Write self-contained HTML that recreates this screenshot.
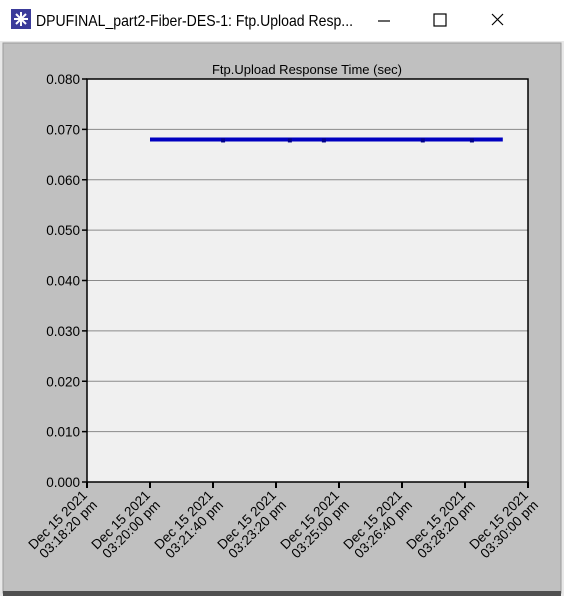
<!DOCTYPE html>
<html><head><meta charset="utf-8"><style>
body{margin:0;width:564px;height:596px;overflow:hidden;background:#fff;font-family:"Liberation Sans",sans-serif}
</style></head><body>
<svg width="564" height="596" xmlns="http://www.w3.org/2000/svg">
<rect x="0" y="0" width="564" height="42" fill="#ffffff"/>
<g>
<rect x="11" y="9" width="20" height="20" fill="#3b3b9a"/>
<path d="M21 12 L21 26 M14 19 L28 19 M16 14 L26 24 M26 14 L16 24" stroke="#fff" stroke-width="2"/>
</g>
<text x="36" y="26" font-size="16" textLength="317" lengthAdjust="spacingAndGlyphs" fill="#000">DPUFINAL_part2-Fiber-DES-1: Ftp.Upload Resp...</text>
<line x1="378" y1="21" x2="390" y2="21" stroke="#000" stroke-width="1.2"/>
<rect x="434" y="14" width="12" height="12" fill="none" stroke="#000" stroke-width="1.2"/>
<path d="M492 14 L503 25 M503 14 L492 25" stroke="#000" stroke-width="1.2"/>
<rect x="0" y="41" width="564" height="555" fill="#e8e8e8"/>
<rect x="3" y="43" width="558" height="550" fill="#c0c0c0" stroke="#9a9a9a"/>
<rect x="3" y="591" width="558" height="5" fill="#505050"/>
<text x="307" y="74" font-size="13" text-anchor="middle" fill="#000">Ftp.Upload Response Time (sec)</text>
<g id="plot"></g>
</svg>
<script>
const tickValues=[0,0.01,0.02,0.03,0.04,0.05,0.06,0.07,0.08];
const tickLabels=["0.000","0.010","0.020","0.030","0.040","0.050","0.060","0.070","0.080"];
const xTickSecs=[0,100,200,300,400,500,600,700];
const xTickTimes=["03:18:20 pm","03:20:00 pm","03:21:40 pm","03:23:20 pm","03:25:00 pm","03:26:40 pm","03:28:20 pm","03:30:00 pm"];
const seriesTimes=[100,216,322,376,533,611,660];
const seriesValues=[0.068,0.068,0.068,0.068,0.068,0.068,0.068];
const X0=87,X1=528,Y0=482,Y1=79;
const xs=t=>X0+(X1-X0)*t/700;
const ys=v=>Y0-(Y0-Y1)*v/0.08;
const NS="http://www.w3.org/2000/svg";
const g=document.getElementById('plot');
function mk(tag,attrs){const e=document.createElementNS(NS,tag);for(const k in attrs)e.setAttribute(k,attrs[k]);g.appendChild(e);return e;}
let bg=mk('rect',{x:X0,y:Y1,width:X1-X0,height:Y0-Y1,fill:'#f0f0f0'});


tickValues.forEach((v,i)=>{
 const y=ys(v);
 if(v>0&&v<0.08){let l=mk('line',{x1:X0,x2:X1,y1:y,y2:y,stroke:'#8a8a8a','stroke-width':1});
 
 }
 mk('line',{x1:X0-5,x2:X0,y1:y,y2:y,stroke:'#000','stroke-width':1.5});
 let t=mk('text',{x:X0-7,y:y+5,'font-size':13.5,'text-anchor':'end',fill:'#000'});
 t.textContent=tickLabels[i];
 
 
});
xTickSecs.forEach((s,i)=>{
 const x=xs(s);
 mk('line',{x1:x,x2:x,y1:Y0,y2:Y0+6,stroke:'#000','stroke-width':2});
 let t=mk('text',{transform:`translate(${x+1},${Y0+14}) rotate(-45)`,'font-size':13.5,'text-anchor':'end',fill:'#000'});
 
 
 const a=document.createElementNS(NS,'tspan');a.setAttribute('x',0);a.setAttribute('dy',0);a.textContent='Dec 15 2021';t.appendChild(a);
 const b=document.createElementNS(NS,'tspan');b.setAttribute('x',0);b.setAttribute('dy',14);b.textContent=xTickTimes[i];t.appendChild(b);
});
let fr=mk('rect',{x:X0,y:Y1,width:X1-X0,height:Y0-Y1,fill:'none',stroke:'#000','stroke-width':1.5});


let pts=seriesTimes.map((t,i)=>xs(t)+','+ys(seriesValues[i])).join(' ');
let pl=mk('polyline',{points:pts,fill:'none',stroke:'#0000c0','stroke-width':4});


seriesTimes.slice(1,-1).forEach((t,i)=>{
 let c=mk('rect',{x:xs(t)-2,y:ys(seriesValues[i+1])-1,width:4,height:4,fill:'#00008a'});
 
 
});
</script>
</body></html>
